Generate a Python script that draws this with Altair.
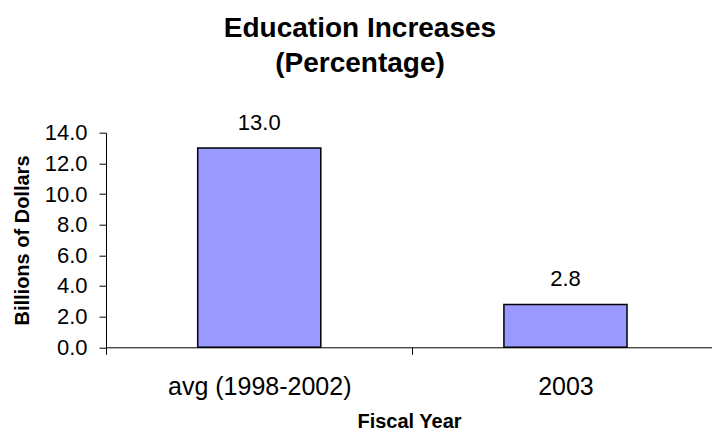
import altair as alt
import pandas as pd

# Fiscal-year categories and the increase for each
categories = ["avg (1998-2002)", "2003"]
increases = [13.0, 2.8]
y_ticks = [0, 2, 4, 6, 8, 10, 12, 14]

df = pd.DataFrame({"year": categories, "value": increases})

FONT = "Liberation Sans"
HALF_GAP = 91.6  # half the space between neighbouring bars, in pixels

x_enc = alt.X(
    "year:N",
    sort=categories,
    scale=alt.Scale(paddingInner=0.598, paddingOuter=0.2885, align=0.519),
    axis=alt.Axis(
        title="Fiscal Year",
        labelAngle=0,
        labelLimit=0,
        labelOverlap=False,
        bandPosition=0,
        tickOffset=-HALF_GAP,
        labelOffset=HALF_GAP,
    ),
)

y_enc = alt.Y(
    "value:Q",
    scale=alt.Scale(domain=[0, 14], nice=False, zero=True),
    axis=alt.Axis(
        title="Billions of Dollars",
        values=y_ticks,
        format=".1f",
        grid=False,
        labelOverlap=False,
        labelFontSize=22,
        labelPadding=12,
        titleX=-84,
        titleBaseline="middle",
    ),
)

bars = alt.Chart(df).mark_bar(
    color="#9999FF", stroke="black", strokeWidth=1.5
).encode(x=x_enc, y=y_enc)

labels = alt.Chart(df).mark_text(
    font=FONT, fontSize=22, color="black", baseline="alphabetic", dy=-18
).encode(
    x=x_enc,
    y=y_enc,
    text=alt.Text("value:Q", format=".1f"),
)

chart = (
    alt.layer(bars, labels)
    .properties(
        width=606,
        height=214.6,
        padding={"left": 106, "top": 132.7, "right": 0, "bottom": 88.7},
        autosize=alt.AutoSizeParams(type="none"),
        background="white",
        title=alt.TitleParams(
            text=["Education Increases", "(Percentage)"],
            font=FONT,
            fontSize=28,
            fontWeight="bold",
            color="black",
            anchor="middle",
            frame="group",
            dx=-49,
            baseline="bottom",
            lineHeight=35.5,
            offset=6,
        ),
    )
    .configure_view(strokeWidth=0)
    .configure_axis(
        labelFont=FONT,
        labelColor="black",
        tickSize=7,
        tickColor="black",
        domainColor="black",
        titleFont=FONT,
        titleFontSize=20,
        titleFontWeight="bold",
        titleColor="black",
    )
    .configure_axisX(
        labelFontSize=25,
        labelPadding=20,
        labelBaseline="top",
        titlePadding=12,
    )
)

chart.save("out.html", embed_options={"renderer": "svg", "actions": False})
